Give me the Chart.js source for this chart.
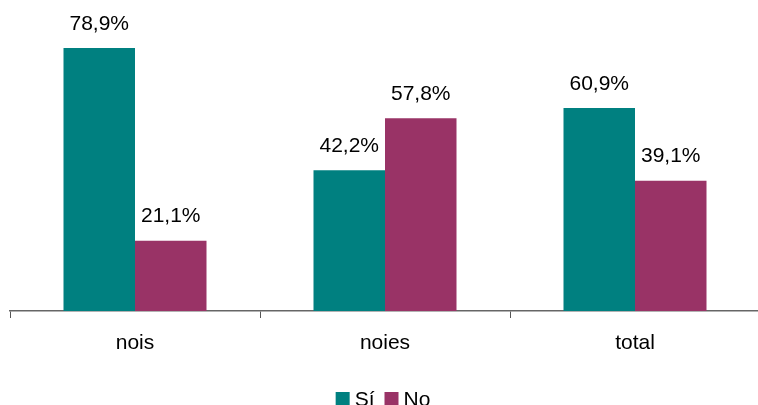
<!DOCTYPE html>
<html>
<head>
<meta charset="utf-8">
<script src="https://cdn.jsdelivr.net/npm/chart.js@4.4.0/dist/chart.umd.min.js"></script>
<style>
  body { margin: 0; overflow: hidden; background: #fff; }
  canvas { display: block; }
</style>
</head>
<body>
<canvas id="myChart" width="770" height="405"></canvas>
<script>
// values
var categories = ["nois", "noies", "total"];
var seriesNames = ["Sí", "No"];
var siValues = [78.9, 42.2, 60.9];
var noValues = [21.1, 57.8, 39.1];

var fontFamily = "'Liberation Sans', Arial, sans-serif";
var labelFont = "21px " + fontFamily;

// draws "78,9%" etc. above each bar
var valueLabels = {
    id: 'valueLabels',
    afterDatasetsDraw: function (chart) {
        var ctx = chart.ctx;
        ctx.save();
        ctx.font = labelFont;
        ctx.fillStyle = '#000';
        ctx.textAlign = 'center';
        ctx.textBaseline = 'middle';
        chart.data.datasets.forEach(function (ds, i) {
            chart.getDatasetMeta(i).data.forEach(function (bar, j) {
                var txt = ds.data[j].toFixed(1).replace('.', ',') + '%';
                ctx.fillText(txt, bar.x, bar.y - 24);
            });
        });
        ctx.restore();
    }
};

// small legend at the bottom, box close to its text like the original
var bottomLegend = {
    id: 'bottomLegend',
    afterDraw: function (chart) {
        var ctx = chart.ctx;
        ctx.save();
        ctx.font = labelFont;
        ctx.textBaseline = 'alphabetic';
        ctx.textAlign = 'left';
        var box = 14, gap = 5, itemGap = 10;
        var total = 0;
        chart.data.datasets.forEach(function (ds, i) {
            total += box + gap + ctx.measureText(ds.label).width;
            if (i > 0) total += itemGap;
        });
        var x = chart.width / 2 - total / 2 - 2;
        chart.data.datasets.forEach(function (ds) {
            ctx.fillStyle = ds.backgroundColor;
            ctx.fillRect(x, 392, box, box);
            x += box + gap;
            ctx.fillStyle = '#000';
            ctx.fillText(ds.label, x, 406);
            x += ctx.measureText(ds.label).width + itemGap;
        });
        ctx.restore();
    }
};

var ctx = document.getElementById("myChart").getContext("2d");
var myChart = new Chart(ctx, {
    type: 'bar',
    data: {
        labels: categories,
        datasets: [{
            label: seriesNames[0],
            data: siValues,
            backgroundColor: '#008080',
            borderWidth: 0
        }, {
            label: seriesNames[1],
            data: noValues,
            backgroundColor: '#993366',
            borderWidth: 0
        }]
    },
    options: {
        responsive: false,
        animation: false,
        layout: {
            padding: { left: 10, right: 10, top: 0, bottom: 0 }
        },
        datasets: {
            bar: {
                categoryPercentage: 0.572,
                barPercentage: 1
            }
        },
        scales: {
            x: {
                offset: true,
                afterFit: function (scale) { scale.height = 94; },
                grid: {
                    offset: true,
                    drawOnChartArea: false,
                    tickLength: 7,
                    color: '#555'
                },
                border: { color: '#666', width: 1.5 },
                ticks: {
                    color: '#000',
                    padding: 13,
                    font: { family: fontFamily, size: 21 }
                }
            },
            y: {
                display: false,
                min: 0,
                max: 93.3
            }
        },
        plugins: {
            legend: { display: false },
            tooltip: { enabled: false }
        }
    },
    plugins: [valueLabels, bottomLegend]
});
</script>
</body>
</html>
